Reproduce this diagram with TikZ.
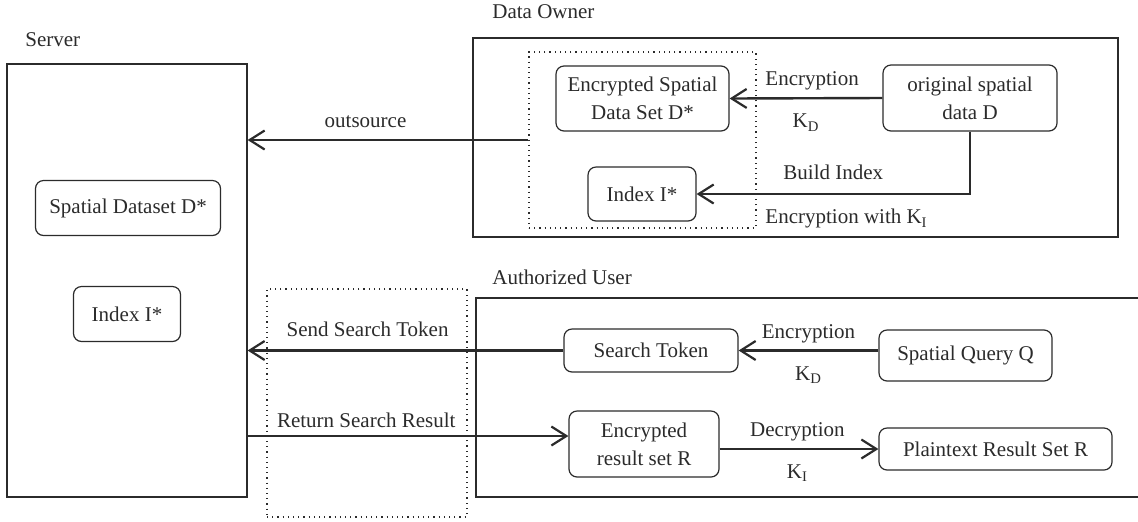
\documentclass[tikz,border=0pt]{standalone}
\usepackage{fontspec}
\setmainfont{Liberation Serif}
\usepackage{tikz}
\usetikzlibrary{arrows.meta, positioning, calc}
\definecolor{inkgray}{HTML}{2B2B2B}

\begin{document}
\begin{tikzpicture}[
  x=0.5pt, y=-0.5pt,
  every node/.style={font=\fontsize{10.5}{14}\selectfont, text=inkgray},
  box/.style={rectangle, rounded corners=4pt, draw=inkgray, line width=0.6pt, align=center, inner sep=2pt},
  group/.style={rectangle, draw=inkgray, line width=0.6pt},
  zone/.style={rectangle, draw=inkgray, dotted, line width=0.6pt},
  arrow/.style={-{Straight Barb[length=7.5pt, width=9.5pt, line width=1.1pt]}, line width=1.2pt, draw=inkgray},
  lbl/.style={anchor=west, inner sep=0pt},
  keylbl/.style={below, yshift=-4pt}
]
  \useasboundingbox (0,0) rectangle (1138,521);

  % the three parties
  \node[group, minimum width=120pt, minimum height=216.5pt] (server) at (127,280.5) {};
  \node[group, minimum width=322.5pt, minimum height=99.5pt] (owner) at (795.5,137.5) {};
  \draw[group] (1138,298) -| (476,497) -- (1138,497);
  \node[lbl] (serverlbl) at (25,40) {Server};
  \node[lbl] (ownerlbl) at (492,12) {Data Owner};
  \node[lbl] (userlbl) at (492,277) {Authorized User};

  % dotted zones
  \node[zone, minimum width=113.5pt, minimum height=88pt] (zoneA) at (642.5,140) {};
  \node[zone, minimum width=100pt, minimum height=114pt] (zoneB) at (367,403) {};

  % server side
  \node[box, minimum width=92.5pt, minimum height=27.5pt] (sdata) at (128,208) {Spatial Dataset D*};
  \node[box, minimum width=53.5pt, minimum height=27.5pt] (sindex) at (127,314) {Index I*};

  % data owner side
  \node[box, minimum width=86.5pt, minimum height=32.5pt] (encdata) at (642.5,98.5) {Encrypted Spatial\\Data Set D*};
  \node[box, minimum width=54pt, minimum height=27pt] (oindex) at (642,194) {Index I*};
  \node[box, minimum width=87pt, minimum height=33pt] (orig) at (970,98) {original spatial\\data D};

  % user side
  \node[box, minimum width=87pt, minimum height=21.5pt] (token) at (651,350.5) {Search Token};
  \node[box, minimum width=86.5pt, minimum height=25.5pt] (query) at (965.5,355.5) {Spatial Query Q};
  \node[box, minimum width=75pt, minimum height=33pt] (encres) at (644,444) {Encrypted\\result set R};
  \node[box, minimum width=116.5pt, minimum height=21pt] (plain) at (995.5,449) {Plaintext Result Set R};

  \draw[arrow] (orig.west) -- node[above, pos=0.46] {Encryption} node[keylbl, pos=0.5] {K\textsubscript{D}} (encdata.east);
  \draw[arrow] (orig.south) |- node[above, pos=0.75, yshift=3pt] {Build Index} node[below right, pos=0.88, inner sep=1pt, yshift=-6pt] {Encryption with K\textsubscript{I}} (oindex.east);
  \draw[arrow] (zoneA.west) -- node[above, pos=0.58, yshift=2pt] {outsource} (server.east |- zoneA.west);

  \draw[arrow] (query.west |- token.east) -- node[above, pos=0.5] {Encryption} node[keylbl, pos=0.5] {K\textsubscript{D}} (token.east);
  \draw[arrow] (token.west) -- node[above, pos=0.62, yshift=3pt] {Send Search Token} (server.east |- token.west);
  \draw[arrow] (server.east |- 0,436) -- node[above, pos=0.37] {Return Search Result} (encres.west |- 0,436);
  \draw[arrow] (encres.east |- plain.west) -- node[above, pos=0.49] {Decryption} node[keylbl, pos=0.49] {K\textsubscript{I}} (plain.west);
\end{tikzpicture}
\end{document}
